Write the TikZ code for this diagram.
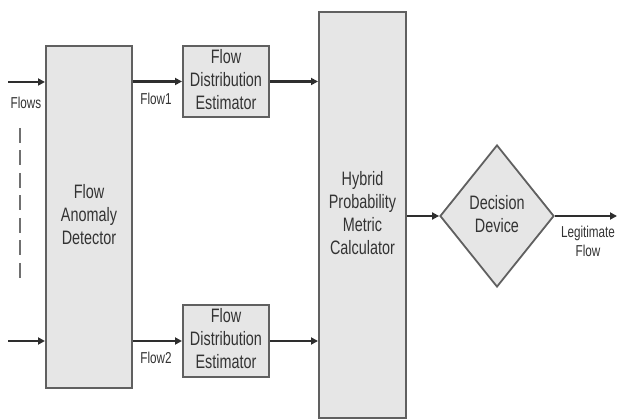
\documentclass[tikz,border=0pt]{standalone}
\usepackage{fontspec}
\setmainfont{Liberation Sans}
\usetikzlibrary{arrows.meta,shapes.geometric}

\definecolor{boxfill}{HTML}{E6E6E6}
\definecolor{boxline}{HTML}{606060}
\definecolor{wire}{HTML}{2E2E2E}
\definecolor{ink}{HTML}{333333}

% text set a little taller than wide, as in the original drawing
\newcommand{\tallText}[1]{\scalebox{1}[1.35]{\begin{tabular}{@{}c@{}}#1\end{tabular}}}

\tikzset{
  block/.style={draw=boxline, line width=2pt, fill=boxfill, inner sep=0pt,
    text=ink, font=\fontsize{14.4}{17}\selectfont, align=center},
  decide/.style={diamond, draw=boxline, line width=1.8pt, fill=boxfill,
    inner sep=0pt, text=ink, font=\fontsize{14.4}{17}\selectfont},
  lbl/.style={text=ink, font=\fontsize{11.7}{14.7}\selectfont, inner sep=0pt},
  flow/.style={draw=wire, line width=2.1pt, -{Triangle[length=7pt,width=7pt]}},
  dots/.style={draw=boxline!90, line width=2pt, dash pattern=on 15pt off 7.5pt}
}

\begin{document}
\begin{tikzpicture}[x=1pt,y=-1pt]
  \useasboundingbox (0,0) rectangle (618,419);

  % processing blocks
  \node[block, minimum width=86pt, minimum height=342pt] (fad) at (89,217)
    {\tallText{Flow\\Anomaly\\Detector}};
  \node[block, minimum width=86pt, minimum height=71pt] (fde1) at (226,81.5)
    {\tallText{Flow\\Distribution\\Estimator}};
  \node[block, minimum width=86pt, minimum height=72pt] (fde2) at (226,341)
    {\tallText{Flow\\Distribution\\Estimator}};
  \node[block, minimum width=87pt, minimum height=406pt] (hpmc) at (362.5,215)
    {\tallText{Hybrid\\Probability\\Metric\\Calculator}};
  \node[decide, minimum width=114pt, minimum height=142pt] (dd) at (497,216)
    {\tallText{Decision\\Device}};

  % free ends of the input and output lines
  \coordinate (in1) at (8,82);
  \coordinate (in2) at (8,341);
  \coordinate (out) at (617,216);
  \coordinate (dtop) at (20,128);
  \coordinate (dbot) at (20,283);

  % connectors
  \draw[flow] (in1) -- (fad.west |- in1);
  \draw[flow] (in2) -- (fad.west |- in2);
  \draw[flow] (fad.east |- fde1.west) -- (fde1.west);
  \draw[flow] (fad.east |- fde2.west) -- (fde2.west);
  \draw[flow] (fde1.east) -- (hpmc.west |- fde1.east);
  \draw[flow] (fde2.east) -- (hpmc.west |- fde2.east);
  \draw[flow] (hpmc.east |- dd.west) -- (dd.west);
  \draw[flow] (dd.east) -- (out);

  % more flows between the two inputs
  \draw[dots] (dtop) -- (dbot);

  % labels
  \node[lbl] (lflows) at (26,105) {\tallText{Flows}};
  \node[lbl] (lflow1) at (156,101) {\tallText{Flow1}};
  \node[lbl] (lflow2) at (156,360) {\tallText{Flow2}};
  \node[lbl] (llegit) at (588,243) {\tallText{Legitimate\\Flow}};
\end{tikzpicture}
\end{document}
